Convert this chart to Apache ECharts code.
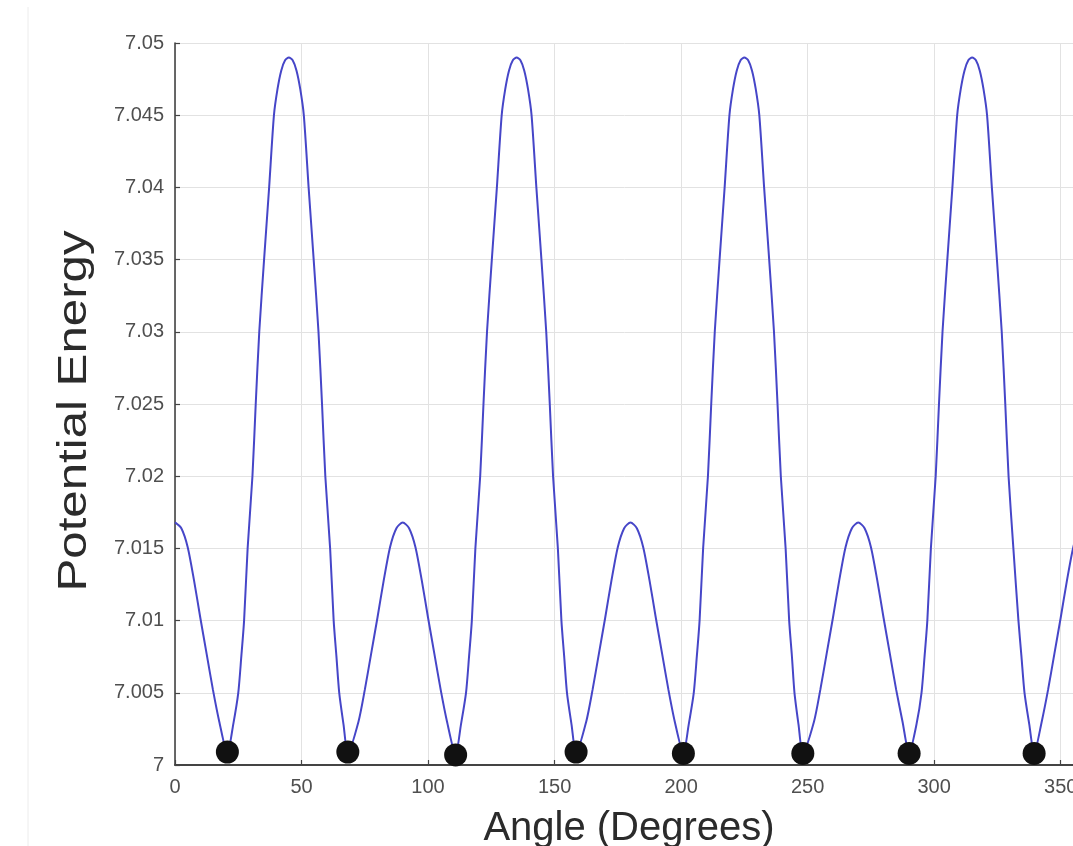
<!DOCTYPE html>
<html>
<head>
<meta charset="utf-8">
<script src="https://cdn.jsdelivr.net/npm/echarts/dist/echarts.min.js"></script>
<style>
html,body{margin:0;padding:0;background:#fff;}
#chart{width:1073px;height:846px;}
</style>
</head>
<body>
<div id="chart"></div>
<script>
// Angle samples (degrees)
const angles = [
  0,2.5,5,7.5,10,12.5,15,17.5,20.7,23,25,26.2,27.3,28.7,30.6,31.9,33.3,35.2,37.2,39.1,40.5,42,43.5,45,46.5,48,49.5,50.9,52.8,54.8,56.7,58.1,59.4,61.3,62.7,63.8,64.9,66.6,68.3,72.5,75,77.5,80,82.5,85,87.5,
  90,92.5,95,97.5,100,102.5,105,107.5,110.9,113,115,116.2,117.3,118.7,120.6,121.9,123.3,125.2,127.2,129.1,130.5,132,133.5,135,136.5,138,139.5,140.9,142.8,144.8,146.7,148.1,149.4,151.3,152.7,153.8,154.9,156.7,158.5,162.5,165,167.5,170,172.5,175,177.5,
  180,182.5,185,187.5,190,192.5,195,197.5,200.9,203,205,206.2,207.3,208.7,210.6,211.9,213.3,215.2,217.2,219.1,220.5,222,223.5,225,226.5,228,229.5,230.9,232.8,234.8,236.7,238.1,239.4,241.3,242.7,243.8,244.8,246.4,248.1,252.5,255,257.5,260,262.5,265,267.5,
  270,272.5,275,277.5,280,282.5,285,287.5,290.1,293,295,296.2,297.3,298.7,300.6,301.9,303.3,305.2,307.2,309.1,310.5,312,313.5,315,316.5,318,319.5,320.9,322.8,324.8,326.7,328.1,329.4,331.3,333.3,334.5,335.7,337.6,339.5,342.5,345,347.5,350,352.5,355,357.5,
  360
];
// Potential energy values
const energy = [
  7.0168,7.0164,7.0151,7.0128,7.0102,7.0077,7.0052,7.0030,7.0008,7.0028,7.0050,7.0075,7.0100,7.0150,7.0200,7.0250,7.0300,7.0350,7.0400,7.0450,7.0468,7.0481,7.0488,7.0490,7.0488,7.0481,7.0468,7.0450,7.0400,7.0350,7.0300,7.0250,7.0200,7.0150,7.0100,7.0075,7.0050,7.0028,7.0008,7.0030,7.0052,7.0077,7.0102,7.0128,7.0151,7.0164,
  7.0168,7.0164,7.0151,7.0128,7.0102,7.0077,7.0052,7.0030,7.0007,7.0028,7.0050,7.0075,7.0100,7.0150,7.0200,7.0250,7.0300,7.0350,7.0400,7.0450,7.0468,7.0481,7.0488,7.0490,7.0488,7.0481,7.0468,7.0450,7.0400,7.0350,7.0300,7.0250,7.0200,7.0150,7.0100,7.0075,7.0050,7.0028,7.0008,7.0030,7.0052,7.0077,7.0102,7.0128,7.0151,7.0164,
  7.0168,7.0164,7.0151,7.0128,7.0102,7.0077,7.0052,7.0030,7.0008,7.0028,7.0050,7.0075,7.0100,7.0150,7.0200,7.0250,7.0300,7.0350,7.0400,7.0450,7.0468,7.0481,7.0488,7.0490,7.0488,7.0481,7.0468,7.0450,7.0400,7.0350,7.0300,7.0250,7.0200,7.0150,7.0100,7.0075,7.0050,7.0028,7.0008,7.0030,7.0052,7.0077,7.0102,7.0128,7.0151,7.0164,
  7.0168,7.0164,7.0151,7.0128,7.0102,7.0077,7.0052,7.0030,7.0008,7.0028,7.0050,7.0075,7.0100,7.0150,7.0200,7.0250,7.0300,7.0350,7.0400,7.0450,7.0468,7.0481,7.0488,7.0490,7.0488,7.0481,7.0468,7.0450,7.0400,7.0350,7.0300,7.0250,7.0200,7.0150,7.0100,7.0075,7.0050,7.0028,7.0008,7.0030,7.0052,7.0077,7.0102,7.0128,7.0151,7.0164,
  7.0168
];
// Marked minima (black dots)
const minAngles = [20.7, 68.3, 110.9, 158.5, 200.9, 248.1, 290.1, 339.5];
const minEnergy = [7.0009, 7.0009, 7.0007, 7.0009, 7.0008, 7.0008, 7.0008, 7.0008];
// Axis settings
const xRange = [0, 360];
const xStep = 50;
const yRange = [7, 7.05];
const yStep = 0.005;
const xTitle = 'Angle (Degrees)';
const yTitle = 'Potential Energy';

const curve = angles.map((a, i) => [a, energy[i]]);
const dots = minAngles.map((a, i) => [a, minEnergy[i]]);

const chart = echarts.init(document.getElementById('chart'), null, {renderer: 'canvas'});
const axisColor = '#444444';
const labelStyle = {color: '#4f4f4f', fontSize: 20, fontFamily: 'Liberation Sans, Arial, sans-serif'};
chart.setOption({
  animation: false,
  backgroundColor: '#ffffff',
  grid: {left: 175, top: 43, width: 911, height: 722, containLabel: false, outerBoundsMode: 'none'},
  xAxis: {
    type: 'value', min: xRange[0], max: xRange[1], interval: xStep,
    axisLine: {show: true, onZero: false, lineStyle: {color: axisColor, width: 2}},
    axisTick: {show: true, inside: true, length: 5, lineStyle: {color: axisColor, width: 1.2}},
    axisLabel: Object.assign({margin: 12, showMaxLabel: false}, labelStyle),
    splitLine: {show: true, lineStyle: {color: '#e2e2e2', width: 1}}
  },
  yAxis: {
    type: 'value', min: yRange[0], max: yRange[1], interval: yStep,
    axisLine: {show: true, onZero: false, lineStyle: {color: axisColor, width: 1.6}},
    axisTick: {show: true, inside: true, length: 5, lineStyle: {color: axisColor, width: 1.2}},
    axisLabel: Object.assign({margin: 11, formatter: v => String(parseFloat(v.toFixed(3)))}, labelStyle),
    splitLine: {show: true, lineStyle: {color: '#e2e2e2', width: 1}}
  },
  graphic: [
    {type: 'line', shape: {x1: 28, y1: 7, x2: 28, y2: 846}, style: {stroke: '#ececec', lineWidth: 1}, silent: true},
    {type: 'text', x: 629, y: 829, style: {text: xTitle, fill: '#2b2b2b', font: '40px "Liberation Sans", Arial, sans-serif', textAlign: 'center', textVerticalAlign: 'middle'}},
    {type: 'text', x: 75, y: 411, rotation: Math.PI / 2, scaleX: 1.23, style: {text: yTitle, fill: '#2b2b2b', font: '40px "Liberation Sans", Arial, sans-serif', textAlign: 'center', textVerticalAlign: 'middle'}}
  ],
  series: [
    {type: 'line', data: curve, showSymbol: false, smooth: 0.25, clip: true,
     lineStyle: {color: '#4646c8', width: 2}, z: 2},
    {type: 'scatter', data: dots, symbol: 'circle', symbolSize: 23,
     itemStyle: {color: '#111111', opacity: 1}, z: 3}
  ]
});
</script>
</body>
</html>
